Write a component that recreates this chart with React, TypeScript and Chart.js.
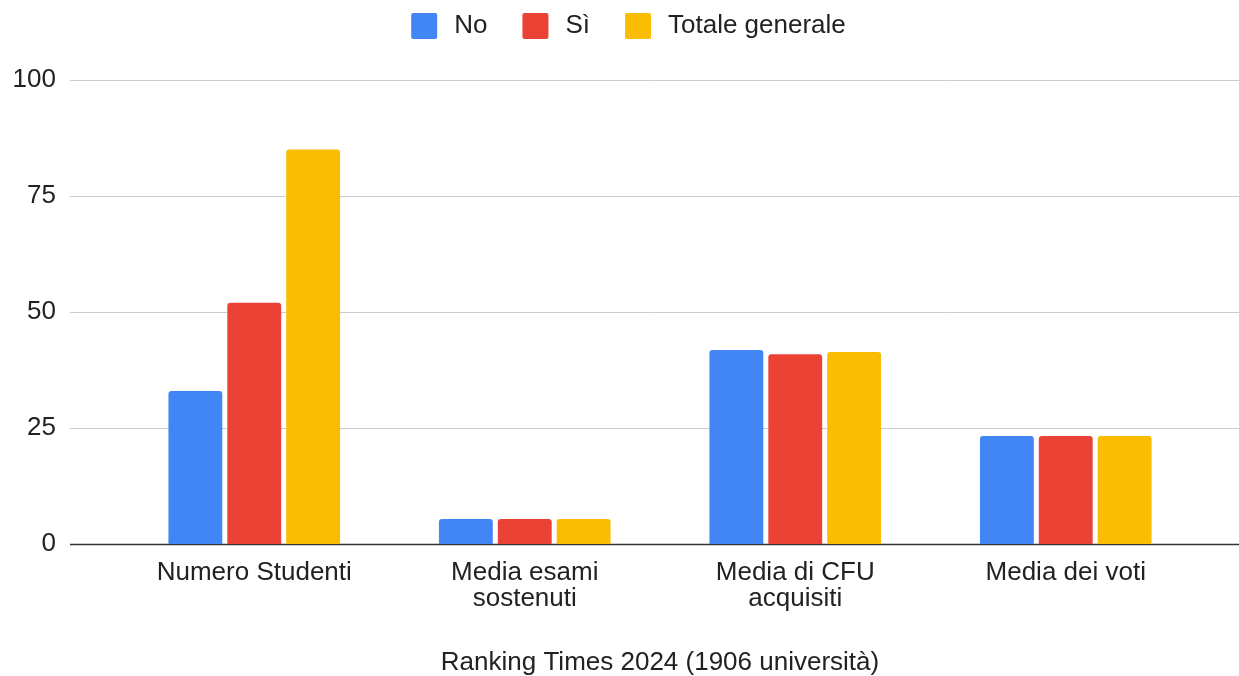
import React, { useEffect, useRef } from "react";
import { Chart, registerables } from "chart.js";

Chart.register(...registerables);

const categories: (string | string[])[] = [
  "Numero Studenti",
  ["Media esami", "sostenuti"],
  ["Media di CFU", "acquisiti"],
  "Media dei voti",
];
const seriesNo = [33, 5.4, 41.8, 23.3];
const seriesSi = [52, 5.4, 40.9, 23.3];
const seriesTotale = [85, 5.4, 41.4, 23.3];
const seriesNames = ["No", "Sì", "Totale generale"];
const seriesColors = ["#4285F4", "#EA4335", "#FBBC04"];
const yTicks = [0, 25, 50, 75, 100];
const xTitle = "Ranking Times 2024 (1906 università)";

const FONT = "'Liberation Sans', Arial, sans-serif";
const TEXT = "#222222";

const gridPlugin = {
  id: "customGrid",
  afterLayout(chart: any) {
    if (chart.legend) {
      chart.legend.left += 26;
      chart.legend.right += 26;
    }
  },
  beforeDatasetsDraw(chart: any) {
    const { ctx } = chart;
    const y = chart.scales.y;
    ctx.save();
    yTicks.forEach((v) => {
      const py = Math.round(y.getPixelForValue(v)) + 0.5;
      ctx.beginPath();
      ctx.strokeStyle = v === 0 ? "#333333" : "#cccccc";
      ctx.lineWidth = v === 0 ? 1.5 : 1;
      ctx.moveTo(70, py);
      ctx.lineTo(chart.width, py);
      ctx.stroke();
    });
    ctx.restore();
  },
};

export default function App() {
  const ref = useRef<HTMLCanvasElement>(null);
  useEffect(() => {
    if (!ref.current) return;
    const data = [seriesNo, seriesSi, seriesTotale];
    const chart = new Chart(ref.current, {
      type: "bar",
      data: {
        labels: categories as any,
        datasets: data.map((d, i) => ({
          label: seriesNames[i],
          data: d,
          backgroundColor: seriesColors[i],
          borderRadius: { topLeft: 3, topRight: 3 },
          borderSkipped: "bottom",
          categoryPercentage: 0.653,
          barPercentage: 0.915,
        })),
      },
      options: {
        animation: false,
        responsive: false,
        maintainAspectRatio: false,
        layout: { padding: { top: -22, right: 38, left: 0, bottom: 0 } },
        plugins: {
          legend: {
            position: "top",
            labels: {
              boxWidth: 34,
              boxHeight: 34,
              useBorderRadius: true,
              borderRadius: 6,
              padding: 31,
              color: TEXT,
              font: { family: FONT, size: 26 },
              generateLabels(chart: any) {
                return chart.data.datasets.map((ds: any, i: number) => ({
                  text: ds.label,
                  fillStyle: ds.backgroundColor,
                  strokeStyle: "#ffffff",
                  lineWidth: 8,
                  fontColor: TEXT,
                  hidden: false,
                  datasetIndex: i,
                  borderRadius: 6,
                }));
              },
            },
          },
          subtitle: {
            display: true,
            text: "",
            weight: 500,
            font: { family: FONT, size: 10, lineHeight: 1 },
            padding: { top: 0, bottom: 17 },
          } as any,
          tooltip: { enabled: false },
        },
        scales: {
          x: {
            grid: { display: false, drawTicks: false },
            border: { display: false },
            ticks: {
              color: TEXT,
              font: { family: FONT, size: 26, lineHeight: 1 },
              padding: 16,
              maxRotation: 0,
              autoSkip: false,
            },
            title: {
              display: true,
              text: xTitle,
              color: TEXT,
              font: { family: FONT, size: 26, lineHeight: 1 },
              padding: { top: 0, bottom: 0 },
            },
            afterFit(scale: any) {
              scale.height = 132;
            },
          },
          y: {
            min: 0,
            max: 100,
            afterBuildTicks(scale: any) {
              scale.ticks = yTicks.map((v) => ({ value: v }));
            },
            grid: { display: false, drawTicks: false },
            border: { display: false },
            ticks: {
              color: TEXT,
              font: { family: FONT, size: 26 },
              padding: 63,
            },
            afterFit(scale: any) {
              scale.width = 119;
            },
          },
        },
      },
      plugins: [gridPlugin],
    });
    return () => chart.destroy();
  }, []);
  return (
    <div style={{ position: "absolute", left: 0, top: 0, width: 1239, height: 676, background: "#fff" }}>
      <canvas ref={ref} width={1239} height={676} style={{ width: 1239, height: 676 }} />
    </div>
  );
}
